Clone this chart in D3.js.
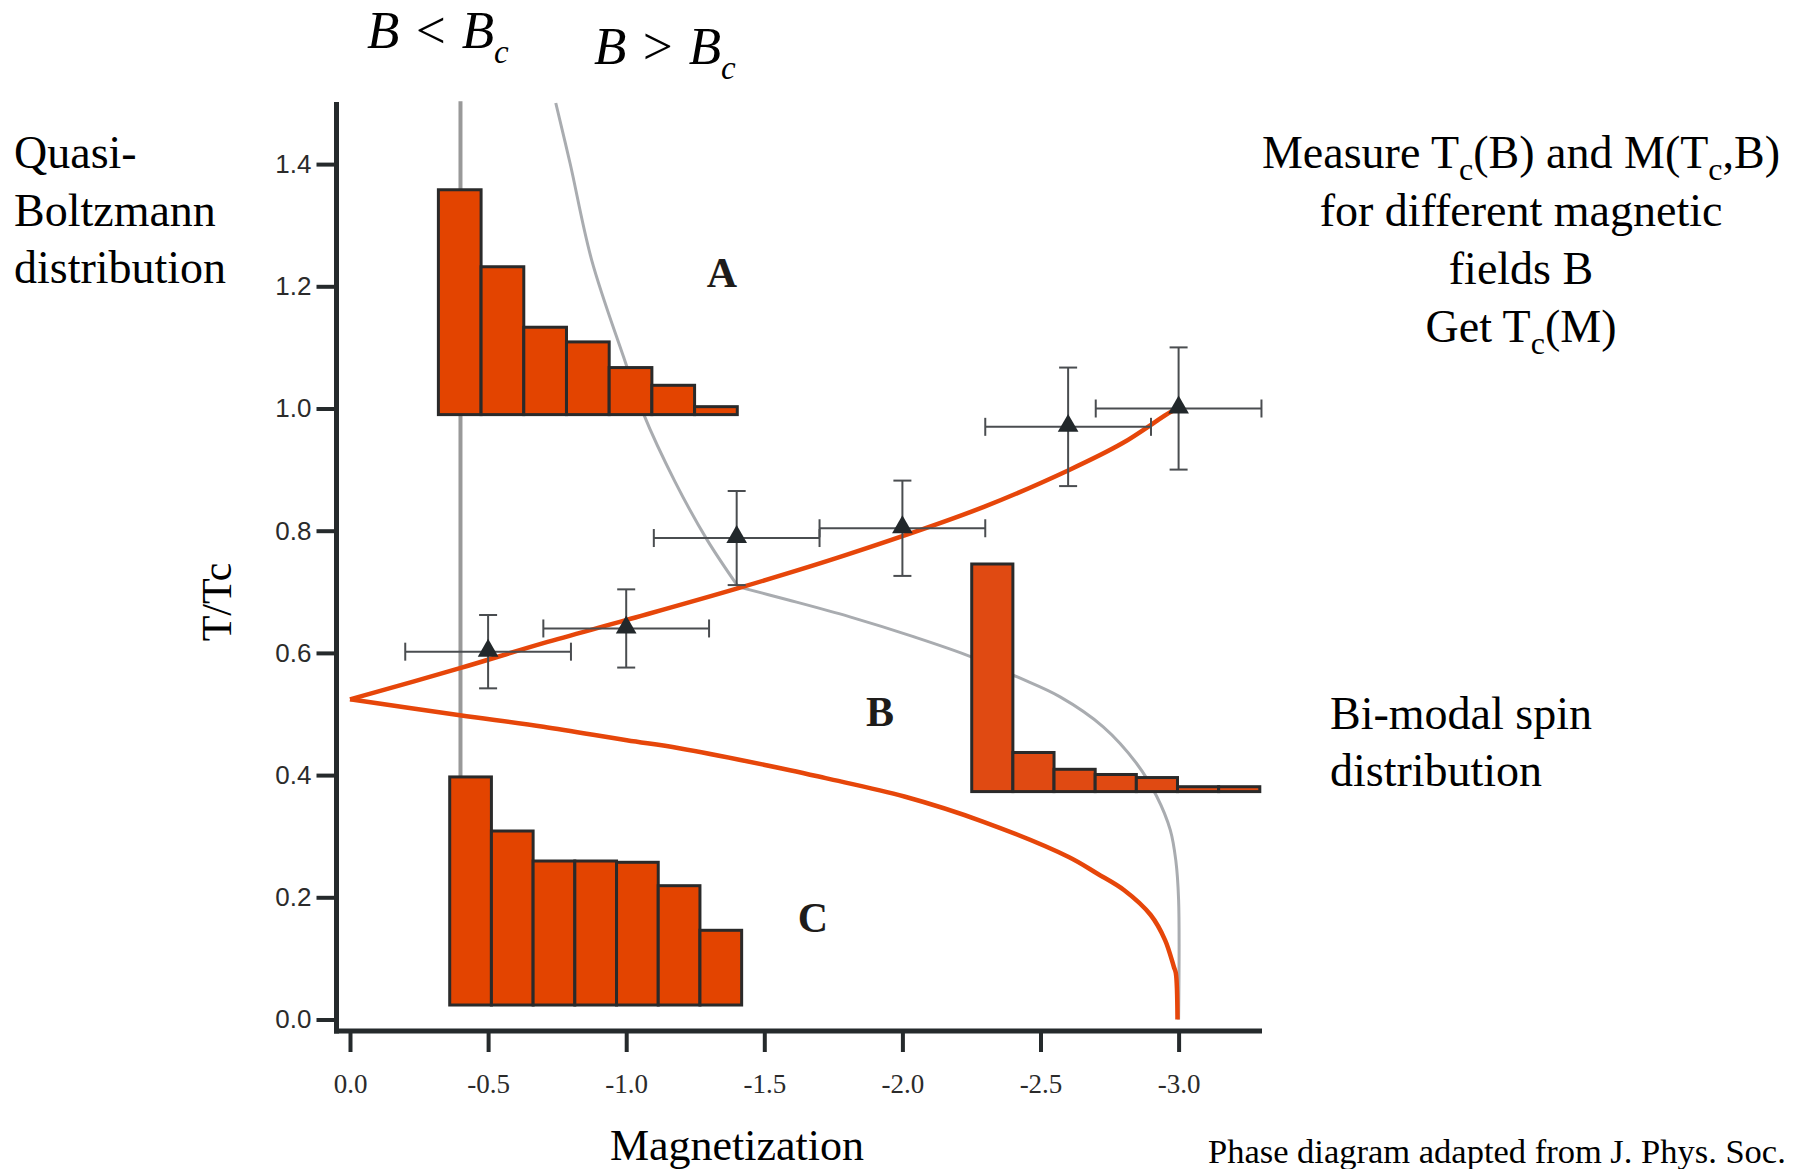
<!DOCTYPE html>
<html>
<head>
<meta charset="utf-8">
<script src="https://cdn.jsdelivr.net/npm/d3@7"></script>
<style>
  body { margin: 0; background: #fff; }
  svg { display: block; }
</style>
</head>
<body>
<div id="chart"></div>
<script>
const width = 1805
const height = 1169

// Ticks
const xTicks = [0, -0.5, -1.0, -1.5, -2.0, -2.5, -3.0]
const yTicks = [0, 0.2, 0.4, 0.6, 0.8, 1.0, 1.2, 1.4]

// Measured Tc(M) points with error bars
const pointM = [-0.5, -1.0, -1.4, -2.0, -2.6, -3.0]
const pointT = [0.602, 0.640, 0.788, 0.804, 0.970, 1.0]
const pointErrM = [0.3, 0.3, 0.3, 0.3, 0.3, 0.3]
const pointErrT = [0.06, 0.064, 0.077, 0.078, 0.097, 0.1]

// Red phase boundary, upper and lower branch
const upperM = [0, -0.398, -0.7, -1.002, -1.406, -1.794, -2.295, -2.602, -2.796, -2.974, -3.0]
const upperT = [0.524, 0.575, 0.616, 0.654, 0.706, 0.760, 0.839, 0.899, 0.943, 0.995, 1.0]
const lowerM = [0, -0.398, -0.7, -1.002, -1.192, -1.593, -1.722, -2.007, -2.291, -2.602, -2.705, -2.802, -2.899, -2.951, -2.983, -2.99, -2.996]
const lowerT = [0.524, 0.498, 0.479, 0.457, 0.444, 0.408, 0.395, 0.365, 0.324, 0.266, 0.239, 0.212, 0.171, 0.130, 0.086, 0.076, 0.0]

// Gray curve (B > Bc), steep part above the crossing and flat part below
const grayUpperM = [-0.745, -0.797, -0.875, -0.99, -1.062, -1.177, -1.293, -1.406]
const grayUpperT = [1.50, 1.401, 1.243, 1.085, 0.992, 0.88, 0.785, 0.708]
const grayLowerM = [-1.406, -1.584, -1.81, -2.037, -2.247, -2.414, -2.571, -2.727, -2.848, -2.921, -2.97, -2.99, -3.0, -3.0]
const grayLowerT = [0.708, 0.687, 0.659, 0.627, 0.594, 0.561, 0.528, 0.479, 0.419, 0.365, 0.31, 0.26, 0.196, 0.0]

// B < Bc vertical line
const bcM = -0.4
const bcT = [1.503, 0.05]

// Histograms: first edge (M), bin width (M), base (T), bar tops (T)
const histAStart = -0.32, histABin = 0.1546, histABase = 0.99
const histA = [1.358, 1.232, 1.133, 1.109, 1.067, 1.038, 1.003]
const histBStart = -2.251, histBBin = 0.149, histBBase = 0.373
const histB = [0.7455, 0.437, 0.4095, 0.401, 0.396, 0.381, 0.381]
const histCStart = -0.361, histCBin = 0.151, histCBase = 0.0237
const histC = [0.397, 0.3085, 0.2594, 0.2594, 0.2573, 0.219, 0.146]

const serif = "'Liberation Serif', 'Times New Roman', serif"
const sans = "'Liberation Sans', Arial, sans-serif"
const axisColor = "#252a2c"

const svg = d3.select("#chart")
  .append("svg")
  .attr("width", width)
  .attr("height", height)
  .style("background", "#fff")

// Escalas
const x = d3.scaleLinear().domain([0, -3]).range([350, 1178.6])
const y = d3.scaleLinear().domain([0, 1.5]).range([1019.5, 103])

const plot = svg.append("g").attr("id", "plot")

// B = Bc vertical line
plot.append("line")
  .attr("x1", x(bcM)).attr("x2", x(bcM))
  .attr("y1", y(bcT[0])).attr("y2", y(bcT[1]))
  .attr("stroke", "#999999")
  .attr("stroke-width", 4)

// gray curve
const smooth = d3.line().x(d => x(d.m)).y(d => y(d.t)).curve(d3.curveCatmullRom.alpha(0.5))
;[[grayUpperM, grayUpperT], [grayLowerM, grayLowerT]].forEach(s => {
  plot.append("path")
    .datum(s[0].map((m, i) => ({m: m, t: s[1][i]})))
    .attr("fill", "none")
    .attr("stroke", "#a9acb0")
    .attr("stroke-width", 3)
    .attr("d", smooth)
})

// histograms
function histogram(tops, start, bin, base, fill) {
  plot.append("g")
    .selectAll("rect")
    .data(tops)
    .join("rect")
      .attr("x", (d, i) => x(start - i * bin))
      .attr("width", (d, i) => x(start - (i + 1) * bin) - x(start - i * bin))
      .attr("y", d => y(d))
      .attr("height", d => y(base) - y(d))
      .attr("fill", fill)
      .attr("stroke", "#2a2a2a")
      .attr("stroke-width", 3)
}
histogram(histA, histAStart, histABin, histABase, "#e34400")
histogram(histB, histBStart, histBBin, histBBase, "#e04a12")
histogram(histC, histCStart, histCBin, histCBase, "#e34400")

// red phase boundary
const upperData = upperM.map((m, i) => ({m: m, t: upperT[i]}))
const lowerData = lowerM.map((m, i) => ({m: m, t: lowerT[i]}))
;[upperData, lowerData].forEach(data => {
  plot.append("path")
    .datum(data)
    .attr("fill", "none")
    .attr("stroke", "#e6460a")
    .attr("stroke-width", 4.5)
    .attr("stroke-linejoin", "round")
    .attr("d", smooth)
})

// error bars
const points = pointM.map((m, i) => ({m: m, t: pointT[i], em: pointErrM[i], et: pointErrT[i]}))
const cap = 9
const errG = plot.append("g")
  .attr("stroke", "#4a4d50")
  .attr("stroke-width", 2)
points.forEach(p => {
  const g = errG.append("g")
  g.append("line").attr("x1", x(p.m + p.em)).attr("x2", x(p.m - p.em)).attr("y1", y(p.t)).attr("y2", y(p.t))
  g.append("line").attr("x1", x(p.m + p.em)).attr("x2", x(p.m + p.em)).attr("y1", y(p.t) - cap).attr("y2", y(p.t) + cap)
  g.append("line").attr("x1", x(p.m - p.em)).attr("x2", x(p.m - p.em)).attr("y1", y(p.t) - cap).attr("y2", y(p.t) + cap)
  g.append("line").attr("x1", x(p.m)).attr("x2", x(p.m)).attr("y1", y(p.t + p.et)).attr("y2", y(p.t - p.et))
  g.append("line").attr("x1", x(p.m) - cap).attr("x2", x(p.m) + cap).attr("y1", y(p.t + p.et)).attr("y2", y(p.t + p.et))
  g.append("line").attr("x1", x(p.m) - cap).attr("x2", x(p.m) + cap).attr("y1", y(p.t - p.et)).attr("y2", y(p.t - p.et))
})

plot.append("g")
  .selectAll("path")
  .data(points)
  .join("path")
    .attr("transform", d => `translate(${x(d.m)}, ${y(d.t) - 1})`)
    .attr("d", d3.symbol(d3.symbolTriangle).size(185))
    .attr("fill", "#22282b")

// Ejes
const fmt = d => d.toFixed(1)
const yAxisGroup = svg.append("g")
  .attr("transform", "translate(336.5, 0)")
  .call(d3.axisLeft(y).tickValues(yTicks).tickSize(20).tickPadding(5).tickFormat(fmt))
yAxisGroup.select(".domain").remove()
yAxisGroup.selectAll(".tick line").attr("stroke", axisColor).attr("stroke-width", 4)
yAxisGroup.selectAll(".tick text")
  .attr("fill", "#2b2b2b")
  .style("font-family", sans)
  .style("font-size", "26px")

const xAxisGroup = svg.append("g")
  .attr("transform", "translate(0, 1031)")
  .call(d3.axisBottom(x).tickValues(xTicks).tickSize(21).tickPadding(22).tickFormat(fmt))
xAxisGroup.select(".domain").remove()
xAxisGroup.selectAll(".tick line").attr("stroke", axisColor).attr("stroke-width", 4)
xAxisGroup.selectAll(".tick text")
  .attr("fill", "#2b2b2b")
  .style("font-family", serif)
  .style("font-size", "27px")

// axis lines
svg.append("line")
  .attr("x1", 336.5).attr("x2", 336.5).attr("y1", 102).attr("y2", 1033.5)
  .attr("stroke", axisColor).attr("stroke-width", 5)
svg.append("line")
  .attr("x1", 334).attr("x2", 1262).attr("y1", 1031).attr("y2", 1031)
  .attr("stroke", axisColor).attr("stroke-width", 5)

// Textos
svg.append("text")
  .attr("transform", "translate(231, 602) rotate(-90)")
  .attr("text-anchor", "middle")
  .style("font-family", serif).style("font-size", "42px")
  .text("T/Tc")

svg.append("text")
  .attr("x", 737).attr("y", 1160)
  .attr("text-anchor", "middle")
  .style("font-family", serif).style("font-size", "44px")
  .text("Magnetization")

svg.append("text")
  .attr("x", 1208).attr("y", 1163)
  .style("font-family", serif).style("font-size", "34.5px")
  .text("Phase diagram adapted from J. Phys. Soc.")

// region letters
const letters = [["A", 722, 287], ["B", 880, 726], ["C", 813, 932]]
letters.forEach(l => {
  svg.append("text")
    .attr("x", l[1]).attr("y", l[2])
    .attr("text-anchor", "middle")
    .style("font-family", serif).style("font-size", "42px").style("font-weight", "bold")
    .attr("fill", "#1e1c1a")
    .text(l[0])
})

// B vs Bc headers
function fieldLabel(txt, px, py) {
  const t = svg.append("text")
    .attr("x", px).attr("y", py)
    .style("font-family", serif).style("font-size", "53px").style("font-style", "italic")
  t.append("tspan").text(txt)
  t.append("tspan").attr("dy", 15).style("font-size", "33px").text("c")
}
fieldLabel("B < B", 367, 48)
fieldLabel("B > B", 594, 64)

// left notes
const leftLines = ["Quasi-", "Boltzmann", "distribution"]
svg.append("g")
  .selectAll("text")
  .data(leftLines)
  .join("text")
    .attr("x", 14)
    .attr("y", (d, i) => 168 + i * 57.5)
    .style("font-family", serif).style("font-size", "46px")
    .text(d => d)

const bimodal = ["Bi-modal spin", "distribution"]
svg.append("g")
  .selectAll("text")
  .data(bimodal)
  .join("text")
    .attr("x", 1330)
    .attr("y", (d, i) => 729 + i * 57)
    .style("font-family", serif).style("font-size", "46px")
    .text(d => d)

// right block with subscripts
const rightLines = [
  [["Measure T", 0], ["c", 1], ["(B) and M(T", 0], ["c", 1], [",B)", 0]],
  [["for different magnetic", 0]],
  [["fields B", 0]],
  [["Get T", 0], ["c", 1], ["(M)", 0]]
]
rightLines.forEach((parts, i) => {
  const t = svg.append("text")
    .attr("x", 1521).attr("y", 168 + i * 58)
    .attr("text-anchor", "middle")
    .style("font-family", serif).style("font-size", "46px")
  let down = false
  parts.forEach(p => {
    const s = t.append("tspan").text(p[0])
    if (p[1] && !down) { s.attr("dy", 12).style("font-size", "32px"); down = true }
    else if (!p[1] && down) { s.attr("dy", -12); down = false }
  })
})
</script>
</body>
</html>
